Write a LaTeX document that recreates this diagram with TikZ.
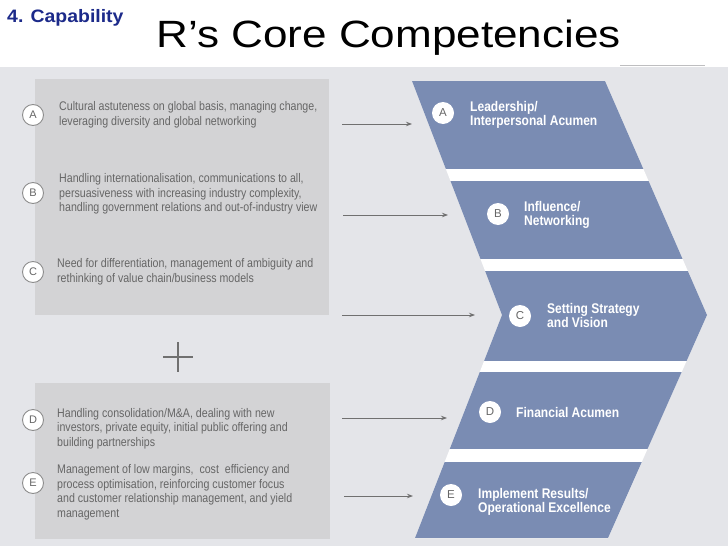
\documentclass[tikz,border=0pt]{standalone}
\usepackage{fontspec}
\setmainfont{Liberation Sans}
\newfontfamily\condfont[FakeStretch=0.85]{Liberation Sans}
\newfontfamily\labfont[FakeStretch=0.86]{Liberation Sans}
\newfontfamily\widefont[FakeStretch=1.16]{Liberation Sans}
\newfontfamily\capfont[FakeStretch=1.08]{Liberation Sans}
\usetikzlibrary{arrows.meta}
\definecolor{bggrey}{HTML}{E4E5E9}
\definecolor{boxgrey}{HTML}{D3D3D5}
\definecolor{chevblue}{HTML}{7A8CB3}
\definecolor{capblue}{HTML}{1C2A8A}
\definecolor{txtgrey}{HTML}{666666}
\definecolor{arrgrey}{HTML}{707070}
\tikzset{
  ltext/.style={anchor=west, inner sep=0pt, align=left, text=txtgrey,
    font=\condfont\fontsize{12.5}{14.5}\selectfont},
  lcirc/.style={circle, draw=arrgrey!80, line width=0.9pt, fill=white, minimum size=21pt,
    inner sep=0pt, text=txtgrey, font=\fontsize{11}{11}\selectfont},
  rcirc/.style={circle, fill=white, minimum size=22pt, inner sep=0pt, text=txtgrey,
    font=\fontsize{11.5}{12}\selectfont},
  rlab/.style={anchor=west, inner sep=0pt, align=left, text=white,
    font=\labfont\bfseries\fontsize{14}{14}\selectfont},
  arr/.style={draw=arrgrey, line width=0.9pt, -{Stealth[length=6pt,width=4.5pt]}},
  plussign/.style={draw=arrgrey, line width=2.6pt}
}
\begin{document}
\begin{tikzpicture}[x=1pt,y=-1pt]
\useasboundingbox (0,0) rectangle (728,546);
\fill[white] (0,0) rectangle (728,546);
\fill[bggrey] (0,67) rectangle (728,546);
\draw[boxgrey!90!black, line width=1pt] (620,65) -- (705,65);

% titles
\node[anchor=base west, inner sep=0pt, text=capblue,
  font=\capfont\bfseries\fontsize{18}{20}\selectfont] (cap) at (7,23) {4. Capability};
\node[anchor=base west, inner sep=0pt,
  font=\widefont\fontsize{38}{44}\selectfont] (title) at (156,47) {R’s Core Competencies};

% left boxes
\fill[boxgrey] (35,79) rectangle (329,315);
\fill[boxgrey] (35,383) rectangle (330,539);

% plus sign
\draw[plussign] (163,357) -- (193,357) (178,342) -- (178,372);

% chevron
\begin{scope}
\clip (412,81) -- (605,81) -- (707,315) -- (608,538) -- (415,538) -- (502,315) -- cycle;
\fill[white] (400,75) rectangle (720,545);
\fill[chevblue] (400,81) rectangle (720,169);
\fill[chevblue] (400,181) rectangle (720,259);
\fill[chevblue] (400,271) rectangle (720,361);
\fill[chevblue] (400,372) rectangle (720,449);
\fill[chevblue] (400,462) rectangle (720,538);
\end{scope}

% left circles and texts
\node[lcirc] (cA) at (33,115) {A};
\node[lcirc] (cB) at (33,193) {B};
\node[lcirc] (cC) at (33,272) {C};
\node[lcirc] (cD) at (33,420) {D};
\node[lcirc] (cE) at (33,483) {E};

\node[ltext] (tA) at (59,115) {Cultural astuteness on global basis, managing change,\\leveraging diversity and global networking};
\node[ltext] (tB) at (59,194) {Handling internationalisation, communications to all,\\persuasiveness with increasing industry complexity,\\handling government relations and out-of-industry view};
\node[ltext] (tC) at (57,272) {Need for differentiation, management of ambiguity and\\rethinking of value chain/business models};
\node[ltext] (tD) at (57,428.5) {Handling consolidation/M\&A, dealing with new\\investors, private equity, initial public offering and\\building partnerships};
\node[ltext] (tE) at (57,492.5) {Management of low margins,\ \ cost\ \ efficiency and\\process optimisation, reinforcing customer focus\\and customer relationship management, and yield\\management};

% right circles and labels
\node[rcirc] (rA) at (443,113) {A};
\node[rcirc] (rB) at (498,214) {B};
\node[rcirc] (rC) at (520,316) {C};
\node[rcirc] (rD) at (490,412) {D};
\node[rcirc] (rE) at (451,495) {E};

\node[rlab] (lA) at (470,114.5) {Leadership/\\Interpersonal Acumen};
\node[rlab] (lB) at (524,215) {Influence/\\Networking};
\node[rlab] (lC) at (547,315.5) {Setting Strategy\\and Vision};
\node[rlab] (lD) at (516,412) {Financial Acumen};
\node[rlab] (lE) at (478,501.5) {Implement Results/\\Operational Excellence};

% arrows
\coordinate (sA) at (342,124); \coordinate (eA) at (412,124);
\coordinate (sB) at (343,215); \coordinate (eB) at (448,215);
\coordinate (sC) at (342,315); \coordinate (eC) at (475,315);
\coordinate (sD) at (342,418); \coordinate (eD) at (447,418);
\coordinate (sE) at (344,496); \coordinate (eE) at (413,496);
\draw[arr] (sA) -- (eA);
\draw[arr] (sB) -- (eB);
\draw[arr] (sC) -- (eC);
\draw[arr] (sD) -- (eD);
\draw[arr] (sE) -- (eE);
\end{tikzpicture}
\end{document}
